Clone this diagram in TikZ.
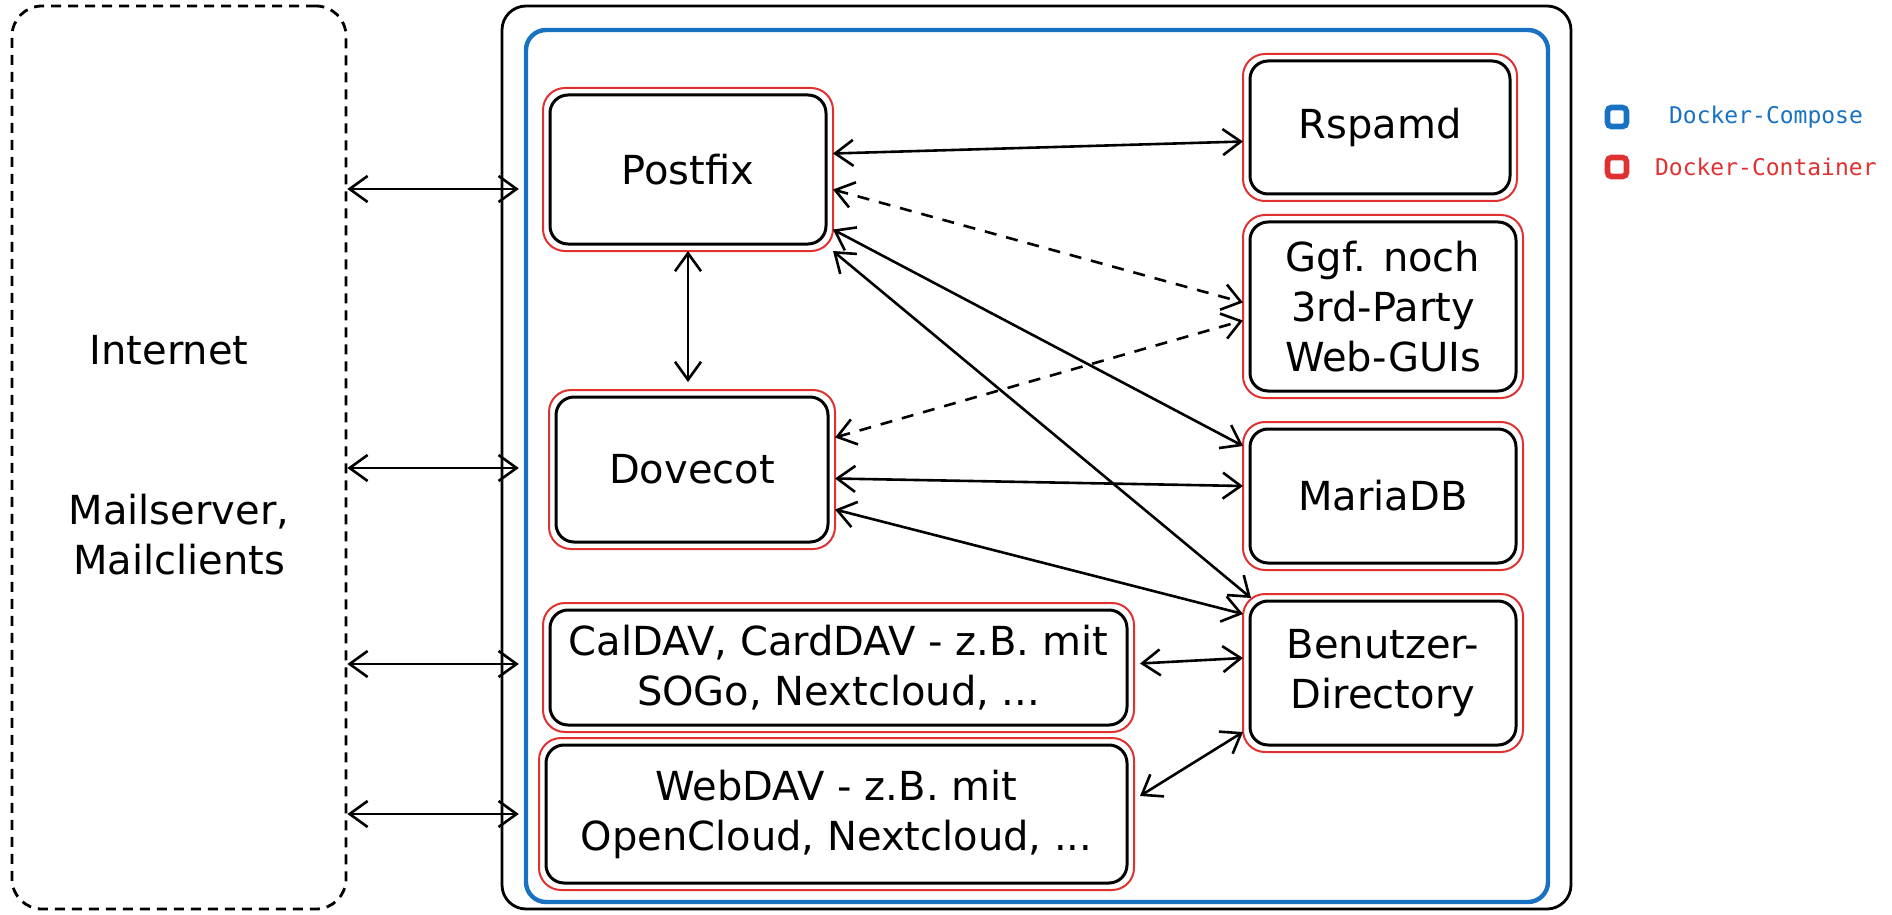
\documentclass[tikz,border=0pt]{standalone}
\usepackage{fontspec}
\setmainfont{DejaVu Sans}
\newfontfamily\legendfont{DejaVu Sans Mono}
\usetikzlibrary{arrows.meta}

\definecolor{composeblue}{HTML}{1971C2}
\definecolor{containerred}{HTML}{E03131}

\tikzset{
  box/.style={draw, line width=1.5pt, rounded corners=9pt, outer sep=3.5pt, align=center, inner sep=2pt},
  redline/.style={draw=containerred, line width=1pt, rounded corners=11pt},
  link/.style={<->, line width=1.3pt, >={Straight Barb[length=9pt,width=13pt]}},
  optlink/.style={link, dash pattern=on 6pt off 5pt},
  legendtext/.style={anchor=west, font=\legendfont\fontsize{11.5}{14}\selectfont},
}

\begin{document}
\begin{tikzpicture}[x=0.5pt, y=-0.5pt, font=\fontsize{20}{25}\selectfont]
    \useasboundingbox (0,0) rectangle (1892,915);

    % Internet
    \node[draw, line width=1.4pt, dash pattern=on 5pt off 3.5pt, rounded corners=15pt,
          minimum width=167pt, minimum height=451.5pt] (internet) at (179,457.5) {};
    \node (inettext) at (169,350) {Internet};
    \node[align=center] (clients) at (179,535) {Mailserver,\\Mailclients};

    % Host and Docker-Compose
    \node[draw, line width=1.4pt, rounded corners=12pt,
          minimum width=534.5pt, minimum height=451.5pt] (host) at (1036.5,457.5) {};
    \node[draw=composeblue, line width=2.2pt, rounded corners=10pt,
          minimum width=511pt, minimum height=436pt] (compose) at (1037,466) {};

    % Container
    \node[box, minimum width=138pt, minimum height=74.5pt] (postfix) at (688,169.5) {Postfix};
    \node[box, minimum width=136pt, minimum height=72.5pt] (dovecot) at (692,469.5) {Dovecot};
    \node[box, minimum width=130pt, minimum height=66.5pt] (rspamd) at (1380,127.5) {Rspamd};
    \node[box, minimum width=133pt, minimum height=84.5pt] (webgui) at (1383,306.5) {Ggf. noch\\3rd-Party\\Web-GUIs};
    \node[box, minimum width=133pt, minimum height=67pt] (mariadb) at (1383,496) {MariaDB};
    \node[box, minimum width=133pt, minimum height=72pt] (directory) at (1383,673) {Benutzer-\\Directory};
    \node[box, minimum width=288.5pt, minimum height=57.5pt] (caldav) at (838.5,667.5) {CalDAV, CardDAV - z.B. mit\\SOGo, Nextcloud, ...};
    \node[box, minimum width=290.5pt, minimum height=69pt] (webdav) at (836.5,814) {WebDAV - z.B. mit\\OpenCloud, Nextcloud, ...};

    % Red container outlines
    \foreach \n in {postfix,dovecot,rspamd,webgui,mariadb,directory,caldav,webdav}
        \draw[redline] (\n.north west) rectangle (\n.south east);

    % Internet links
    \foreach \y in {189,468,664,814}
        \draw[link, shorten >=2.5pt] (internet.east |- 0,\y) -- (compose.west |- 0,\y);

    % Links between containers
    \draw[link] ([yshift=8pt]postfix.east) -- ([yshift=-7pt]rspamd.west);
    \draw[optlink] ([yshift=-10pt]postfix.east) -- ([yshift=2pt]webgui.west);
    \draw[link] ([yshift=-30pt]postfix.east) -- ([yshift=25pt]mariadb.west);
    \draw[link] (postfix.south east) -- ([xshift=4pt,yshift=-2pt]directory.north west);
    \draw[link, shorten >=4pt] (postfix.south) -- (postfix.south |- dovecot.north);
    \draw[optlink] ([yshift=16pt]dovecot.east) -- ([yshift=-7pt]webgui.west);
    \draw[link] ([yshift=-4.5pt]dovecot.east) -- ([yshift=5pt]mariadb.west);
    \draw[link] ([yshift=-20pt]dovecot.east) -- ([yshift=-10pt]directory.north west);
    \draw[link] ([xshift=3pt,yshift=2pt]caldav.east) -- ([yshift=7.5pt]directory.west);
    \draw[link] ([xshift=3pt,yshift=9pt]webdav.east) -- ([yshift=-29.5pt]directory.west);

    % Legend
    \node[draw=composeblue, line width=2.8pt, rounded corners=2pt, minimum size=9.5pt, inner sep=0pt] (composekey) at (1617,117) {};
    \node[legendtext, text=composeblue] (composelabel) at (1662,117) {Docker-Compose};
    \node[draw=containerred, line width=2.8pt, rounded corners=2pt, minimum size=9.5pt, inner sep=0pt] (containerkey) at (1617,167) {};
    \node[legendtext, text=containerred] (containerlabel) at (1648,167) {Docker-Container};
\end{tikzpicture}
\end{document}
